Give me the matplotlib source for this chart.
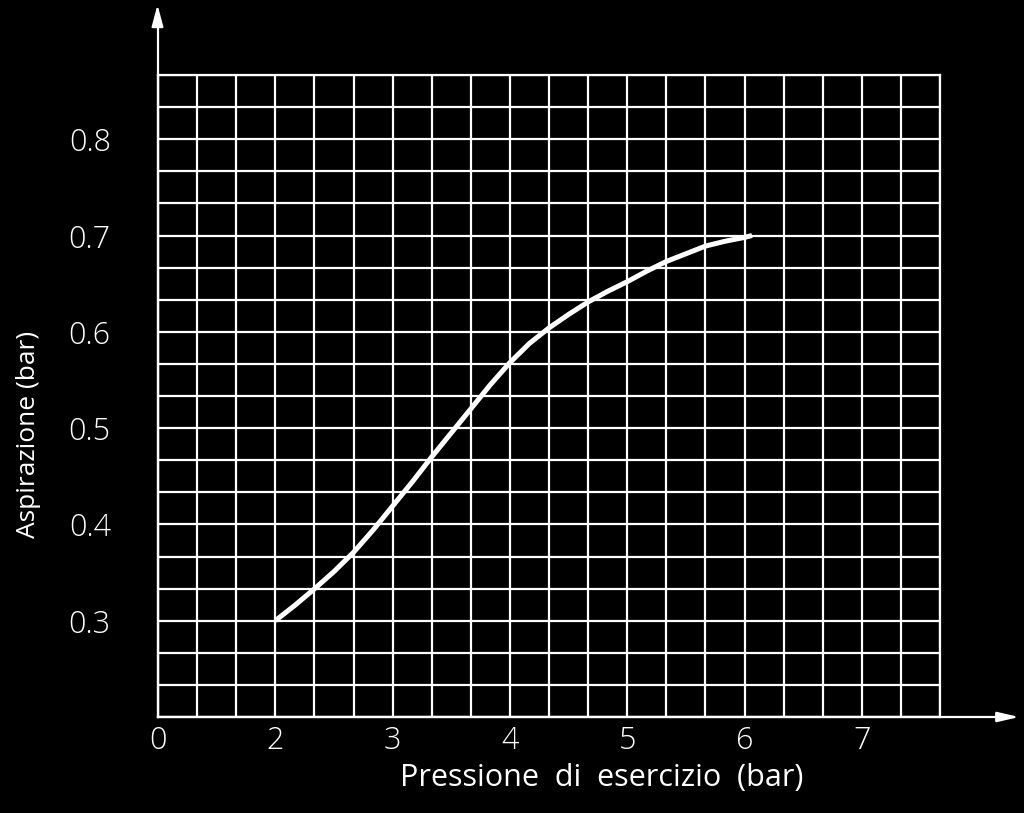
import numpy as np
import matplotlib
matplotlib.use("Agg")
import matplotlib.pyplot as plt

# dati
pressione = [2.0, 2.167, 2.333, 2.5, 2.667, 2.833, 3.0, 3.167, 3.333, 3.5, 3.667,
             3.833, 4.0, 4.167, 4.333, 4.5, 4.667, 4.833, 5.0, 5.167, 5.333, 5.5,
             5.667, 5.833, 6.0, 6.064]
aspirazione = [0.300, 0.316, 0.333, 0.351, 0.371, 0.394, 0.419, 0.444, 0.470, 0.495, 0.520,
               0.545, 0.568, 0.588, 0.604, 0.618, 0.631, 0.642, 0.652, 0.663, 0.673, 0.681,
               0.689, 0.694, 0.698, 0.700]

xtick_pos = [1, 2, 3, 4, 5, 6, 7]
xtick_lab = ["0", "2", "3", "4", "5", "6", "7"]
ytick_pos = [0.3, 0.4, 0.5, 0.6, 0.7, 0.8]
ytick_lab = ["0.3", "0.4", "0.5", "0.6", "0.7", "0.8"]

plt.rcParams['font.family'] = ['Open Sans', 'DejaVu Sans']
plt.rcParams['font.weight'] = 'light'

fig = plt.figure(figsize=(10.24, 8.13), dpi=100, facecolor='black')
ax = fig.add_axes([158/1024, 1 - 717/813, 782/1024, 642/813], facecolor='black')

x0, x1 = 1.0, 1.0 + 20/3
y0, y1 = 0.2, 0.2 + 20/30
ax.set_xlim(x0, x1)
ax.set_ylim(y0, y1)

#griglia
ax.set_xticks(np.linspace(x0, x1, 21), minor=True)
ax.set_yticks(np.linspace(y0, y1, 21), minor=True)
ax.grid(which='both', color='white', lw=1.6)
ax.set_axisbelow(True)

ax.set_xticks(xtick_pos)
ax.set_xticklabels(xtick_lab)
ax.set_yticks(ytick_pos)
ax.set_yticklabels(ytick_lab)
ax.tick_params(which='both', length=0, colors='white', labelsize=22)
ax.tick_params(axis='x', pad=6)
ax.tick_params(axis='y', pad=34)

for s in ax.spines.values():
    s.set_color('white')
    s.set_linewidth(1.6)

# curva
ax.plot(pressione, aspirazione, color='white', lw=3.6, solid_capstyle='butt',
        solid_joinstyle='round')

ax.set_xlabel("Pressione  di  esercizio  (bar)", color='white', fontsize=22)
ax.xaxis.set_label_coords(0.567, -0.072)
ax.set_ylabel("Aspirazione (bar)", color='white', fontsize=19)
ax.yaxis.set_label_coords(-0.149, 0.44)

# frecce degli assi
fig.add_artist(plt.Line2D([158/1024, 158/1024], [1 - 717/813, 1 - 20/813],
                          color='white', lw=1.6, transform=fig.transFigure))
fig.add_artist(plt.Line2D([158/1024, 1000/1024], [1 - 717/813, 1 - 717/813],
                          color='white', lw=1.6, transform=fig.transFigure))
ax.annotate('', xy=(157.5/1024, 1 - 2/813), xytext=(157.5/1024, 1 - 24/813),
            xycoords='figure fraction',
            arrowprops=dict(arrowstyle='-|>,head_length=1.3,head_width=0.35',
                            color='white', lw=1.6))
ax.annotate('', xy=(1022/1024, 1 - 717/813), xytext=(995/1024, 1 - 717/813),
            xycoords='figure fraction',
            arrowprops=dict(arrowstyle='-|>,head_length=1.3,head_width=0.3',
                            color='white', lw=1.6))

fig.savefig("out.png", dpi=100, facecolor='black')
